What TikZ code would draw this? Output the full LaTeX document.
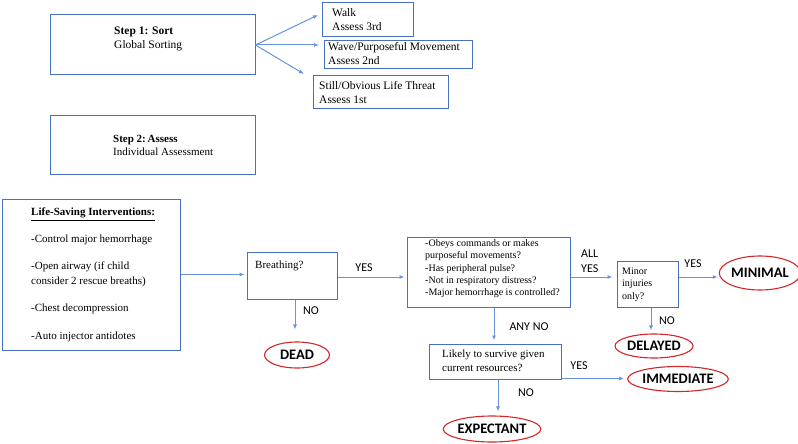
\documentclass[tikz,border=0pt]{standalone}
\usepackage{fontspec}
\setmainfont{Liberation Serif}
\newfontfamily\calibri{Carlito}
\usetikzlibrary{shapes.geometric,arrows.meta}

\begin{document}
\begin{tikzpicture}[x=1pt,y=-1pt,
  box/.style={draw=boxblue, line width=1pt, inner sep=0pt},
  txt/.style={anchor=north west, inner sep=0pt, align=left, font=\fontsize{11.5}{14}\selectfont},
  arr/.style={draw=arrowblue, line width=1pt, -{Latex[length=5pt,width=4pt]}},
  ans/.style={inner sep=0pt, align=left, font=\calibri\fontsize{12}{15}\selectfont},
  result/.style={ellipse, draw=resred, line width=1.1pt, inner sep=0pt, font=\calibri\bfseries\fontsize{14.5}{16}\selectfont}]

% Colours
\definecolor{boxblue}{RGB}{72,112,192}
\definecolor{arrowblue}{RGB}{104,146,222}
\definecolor{resred}{RGB}{212,38,38}

\useasboundingbox (0,0) rectangle (798,444);

% Step 1: sorting and its three groups
\node[box, minimum width=205, minimum height=60] (sort) at (152.5,45) {};
\node[txt] (sorttxt) at (114,27) {\textbf{Step 1: Sort}\\Global Sorting};

\node[box, minimum width=91, minimum height=34] (walk) at (367.5,20) {};
\node[txt] (walktxt) at (332,8) {Walk\\Assess 3rd};
\node[box, minimum width=148, minimum height=28] (wave) at (398,55) {};
\node[txt] (wavetxt) at (328,42) {Wave/Purposeful Movement\\Assess 2nd};
\node[box, minimum width=135, minimum height=32] (still) at (380.5,92) {};
\node[txt] (stilltxt) at (319,81) {Still/Obvious Life Threat\\Assess 1st};

\coordinate (w1) at (318,15);
\coordinate (w2) at (319,45);
\coordinate (w3) at (304,74);
\foreach \t in {w1,w2,w3} {
  \draw[arr] (sort.east) -- (\t);
}

% Step 2: assessing
\node[box, minimum width=205, minimum height=59] (assess) at (152.5,144.5) {};
\node[txt, font=\fontsize{11}{12.5}\selectfont] (assesstxt) at (113,135.5) {\textbf{Step 2:\,Assess}\\Individual Assessment};

% Life-saving interventions
\node[box, minimum width=178, minimum height=151] (lsi) at (91,274.5) {};
\node[txt, font=\fontsize{11}{14.5}\selectfont] (lsitxt) at (31,208) {%
  \textbf{\underline{Life-Saving Interventions:}}\\[12pt]
  -Control major hemorrhage\\[13pt]
  -Open airway (if child\\
  consider 2 rescue breaths)\\[13pt]
  -Chest decompression\\[13pt]
  -Auto injector antidotes};

% Breathing
\node[box, minimum width=90, minimum height=47] (breath) at (292,275.5) {};
\node[txt, font=\fontsize{11}{14}\selectfont] (breathtxt) at (255,261) {Breathing?};

% Criteria
\node[box, minimum width=163, minimum height=70] (crit) at (488.5,272) {};
\node[txt, font=\fontsize{10}{12.2}\selectfont] (crittxt) at (425,239.5) {%
  -Obeys commands or makes\\
  purposeful movements?\\
  -Has peripheral pulse?\\
  -Not in respiratory distress?\\
  -Major hemorrhage is controlled?};

% Minor injuries
\node[box, minimum width=61, minimum height=46] (minor) at (647.5,284) {};
\node[txt, font=\fontsize{10}{12.5}\selectfont] (minortxt) at (622,267.5) {Minor\\injuries\\only?};

% Likely to survive
\node[box, minimum width=132, minimum height=35] (likely) at (495,361.5) {};
\node[txt, font=\fontsize{11}{14}\selectfont] (likelytxt) at (442,350) {Likely to survive given\\current resources?};

% Outcomes
\node[result, minimum width=65, minimum height=26] (dead) at (297,355) {DEAD};
\node[result, minimum width=71, minimum height=34] (minimal) at (760,273) {MINIMAL};
\node[result, minimum width=78, minimum height=24] (delayed) at (654,346) {DELAYED};
\node[result, minimum width=100, minimum height=25] (immediate) at (678,379) {IMMEDIATE};
\node[result, minimum width=86, minimum height=26] (expectant) at (492,429) {EXPECTANT};

% Connectors
\draw[arr, shorten >=2pt] (lsi.east) -- (lsi.east -| breath.west);
\draw[arr, shorten >=2pt] ([yshift=-1.5pt]breath.east) -- ([yshift=-1.5pt]breath.east -| crit.west);
\draw[arr] ([xshift=3pt]breath.south) -- ([xshift=3pt,yshift=12pt]breath.south |- dead.north);
\draw[arr, shorten >=4pt] ([yshift=-5pt]crit.east) -- ([yshift=-5pt]crit.east -| minor.west);
\draw[arr, shorten >=3pt] ([xshift=5.5pt]crit.south) -- ([xshift=5.5pt]crit.south |- likely.north);
\draw[arr, shorten >=1pt] ([yshift=7pt]minor.east) -- ([yshift=7pt]minor.east -| minimal.west);
\draw[arr] ([xshift=3.5pt]minor.south) -- ([xshift=3.5pt,yshift=3pt]minor.south |- delayed.north);
\draw[arr, shorten >=3pt] ([yshift=1pt]likely.south east) -- ([yshift=1pt]likely.south east -| immediate.west);
\draw[arr] ([xshift=3pt]likely.south) -- ([xshift=3pt,yshift=4pt]likely.south |- expectant.north);

% Answers
\node[ans] (yes1) at (364,268) {YES};
\node[ans] (no1) at (311,311) {NO};
\node[ans, anchor=west] (allyes) at (581,261) {ALL\\YES};
\node[ans] (yes2) at (693,264) {YES};
\node[ans] (no2) at (667,321) {NO};
\node[ans] (anyno) at (529,327) {ANY NO};
\node[ans] (yes3) at (579,366) {YES};
\node[ans] (no3) at (526,393) {NO};

\end{tikzpicture}
\end{document}
